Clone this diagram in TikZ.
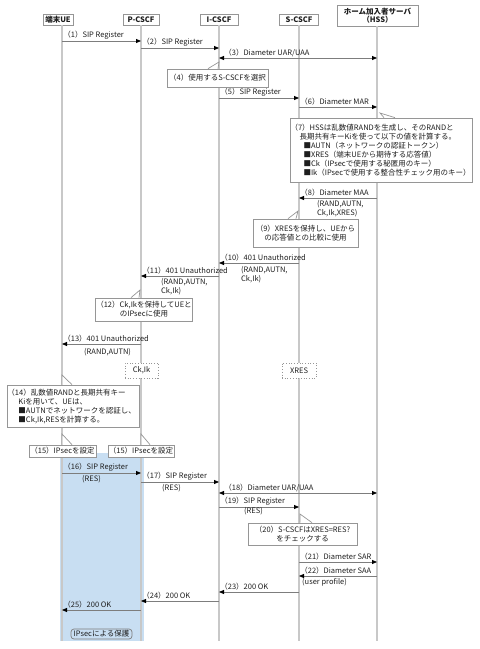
\documentclass[tikz,border=0pt]{standalone}
\usepackage{fontspec}
\setmainfont{Noto Sans CJK JP}
\usetikzlibrary{arrows.meta,positioning,calc}
\hyphenpenalty=10000
\definecolor{lifegray}{RGB}{200,200,200}
\definecolor{msggray}{RGB}{125,125,125}
\definecolor{boxgray}{RGB}{150,150,150}
\definecolor{ipsecblue}{RGB}{200,222,242}
\definecolor{inkgray}{RGB}{30,30,30}
\tikzset{
    head/.style={rectangle, draw=boxgray, fill=white, line width=0.9pt, minimum height=11pt, inner sep=1pt, align=center, text=inkgray, font=\fontsize{7.5}{8.5}\selectfont\bfseries},
    life/.style={draw=lifegray, line width=1.8pt},
    msg/.style={draw=msggray, line width=0.8pt, -{Triangle[color=black, length=5pt, width=4pt]}},
    msgboth/.style={draw=msggray, line width=0.8pt, {Triangle[color=black, length=5pt, width=4pt]}-{Triangle[color=black, length=5pt, width=4pt]}},
    lbl/.style={inner sep=1pt, text=inkgray},
    sub/.style={inner sep=1pt, text=inkgray, align=left, anchor=north west},
    note/.style={rectangle, draw=boxgray, fill=white, line width=0.7pt, inner xsep=0.5pt, inner ysep=2pt, align=center, text=inkgray},
    memo/.style={rectangle, draw=boxgray, dotted, fill=white, line width=0.7pt, minimum height=15pt, inner sep=1pt, text=inkgray},
    tail/.style={draw=boxgray, line width=0.7pt},
}

\begin{document}
\begin{tikzpicture}[x=1pt, y=-1pt, font=\fontsize{7.5}{9}\selectfont]
    \useasboundingbox (0,0) rectangle (480,649);
    % lifeline positions
    \coordinate (lU) at (62,0);
    \coordinate (lP) at (141,0);
    \coordinate (lI) at (219,0);
    \coordinate (lS) at (299,0);
    \coordinate (lH) at (377,0);

    % IPsec protected area
    \fill[ipsecblue] (59.5,453) rectangle (143.5,641);

    % headers
    \node[head, minimum width=30pt] (hU) at (58,19.5) {端末UE};
    \node[head, minimum width=36pt] (hP) at (lP |- 0,19.5) {P-CSCF};
    \node[head, minimum width=38pt] (hI) at (lI |- 0,19.5) {I-CSCF};
    \node[head, minimum width=39pt] (hS) at (lS |- 0,19.5) {S-CSCF};
    \node[head, minimum width=81pt, minimum height=21pt] (hH) at (377.5,15.5) {ホーム加入者サーバ\\（HSS）};

    \foreach \c/\h in {lU/hU, lP/hP, lI/hI, lS/hS, lH/hH}
        \draw[life] (\c |- \h.south) -- (\c |- 0,641);

    % messages to the right
    \foreach \n/\a/\b/\y/\t in {1/lU/lP/41/SIP Register, 2/lP/lI/48/SIP Register, 5/lI/lS/98/SIP Register, 6/lS/lH/107/Diameter MAR, 16/lU/lP/473/SIP Register, 17/lP/lI/482/SIP Register, 19/lI/lS/507/SIP Register, 21/lS/lH/562/Diameter SAR}
        \draw[msg] (\a |- 0,\y) -- (\b |- 0,\y) node[lbl, pos=0, anchor=south west] {（\n）\t};
    % messages to the left
    \foreach \n/\a/\b/\y/\t in {8/lH/lS/198/Diameter MAA, 10/lS/lI/263/401 Unauthorized, 11/lI/lP/276/401 Unauthorized, 13/lP/lU/344/401 Unauthorized, 22/lH/lS/576/Diameter SAA, 23/lS/lI/592/200 OK, 24/lI/lP/601/200 OK, 25/lP/lU/610/200 OK}
        \draw[msg] (\a |- 0,\y) -- (\b |- 0,\y) node[lbl, pos=1, anchor=south west] {（\n）\t};
    % both ways
    \foreach \n/\y in {3/58, 18/493}
        \draw[msgboth] (lI |- 0,\y) -- (lH |- 0,\y) node[lbl, pos=0, anchor=south west, xshift=4pt] {（\n）Diameter UAR/UAA};

    % parameters under the arrows
    \node[sub] (r8) at (316,199) {(RAND,AUTN,\\Ck,Ik,XRES)};
    \node[sub] (r10) at (240,265) {(RAND,AUTN,\\Ck,Ik)};
    \node[sub] (r11) at (160,277) {(RAND,AUTN,\\Ck,Ik)};
    \node[sub] (r13) at (83,347) {(RAND,AUTN)};
    \node[sub] (r16) at (81,474) {(RES)};
    \node[sub] (r17) at (161,483) {(RES)};
    \node[sub] (r19) at (243,506) {(RES)};
    \node[sub] (r22) at (301,577) {(user profile)};

    % notes
    \node[note, minimum width=101pt, minimum height=18pt] (n4) at (217.5,78) {（4）使用するS-CSCFを選択};
    \node[note, text width=181pt, minimum height=64pt, align=left] (n7) at (381,150) {（7）HSSは乱数値RANDを生成し、そのRANDと\\
        \hspace*{9pt}長期共有キーKiを使って以下の値を計算する。\\
        \hspace*{13pt}■AUTN（ネットワークの認証トークン）\\
        \hspace*{13pt}■XRES（端末UEから期待する応答値）\\
        \hspace*{13pt}■Ck（IPsecで使用する秘匿用のキー）\\
        \hspace*{13pt}■Ik（IPsecで使用する整合性チェック用のキー）};
    \node[note, minimum width=105pt, minimum height=28pt] (n9) at (305.5,233) {（9）XRESを保持し、UEから\\の応答値との比較に使用};
    \node[note, minimum width=96pt, minimum height=23pt] (n12) at (144,309.5) {（12）Ck,Ikを保持してUEと\\のIPsecに使用};
    \node[note, text width=131pt, minimum height=42pt, align=left] (n14) at (73,406) {（14）乱数値RANDと長期共有キー\\
        \hspace*{11pt}Kiを用いて、UEは、\\
        \hspace*{11pt}■AUTNでネットワークを認証し、\\
        \hspace*{11pt}■Ck,Ik,RESを計算する。};
    \node[note, minimum width=67pt, minimum height=12pt, inner ysep=0.5pt] (n15a) at (62.5,451) {（15）IPsecを設定};
    \node[note, minimum width=66pt, minimum height=12pt, inner ysep=0.5pt] (n15b) at (141,451) {（15）IPsecを設定};
    \node[note, minimum width=109pt, minimum height=22pt] (n20) at (302.5,534) {（20）S-CSCFはXRES=RES?\\をチェックする};

    % callout tails
    \foreach \nd/\xa/\xb/\px/\py in {n4/208/218/219/62, n7/384/395/380/113, n9/288/296/298/211, n12/131/139/140/290, n14/62/72/62/375, n15a/62/72/62/434, n15b/141/150/141/434, n20/300/312/300/514} {
        \fill[white] (\nd.north -| \xa,0) -- (\px,\py) -- (\nd.north -| \xb,0) -- cycle;
        \draw[tail] (\nd.north -| \xa,0) -- (\px,\py) -- (\nd.north -| \xb,0);
    }

    % stored keys
    \node[memo, minimum width=33pt] (kP) at (141.5,370.5) {Ck,Ik};
    \node[memo, minimum width=34pt] (kS) at (lS |- 0,370.5) {XRES};

    \node[rectangle, rounded corners=3pt, draw=msggray, line width=0.7pt, minimum width=61pt, minimum height=10pt, inner sep=0.5pt, text=inkgray] (prot) at (101.5,634) {IPsecによる保護};
\end{tikzpicture}
\end{document}
